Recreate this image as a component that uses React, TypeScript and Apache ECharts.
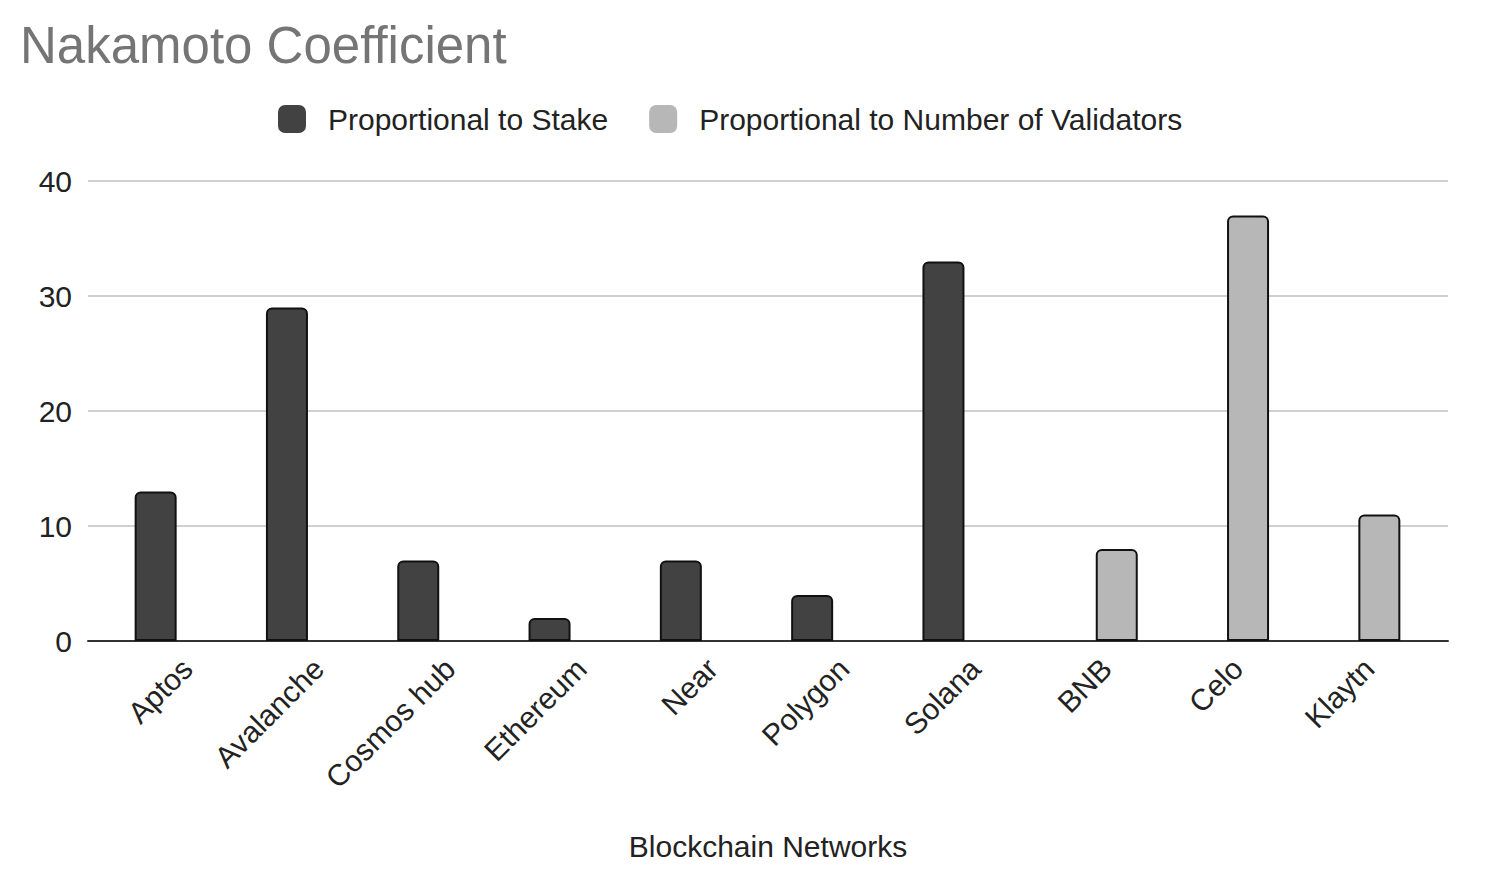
import React, { useEffect, useRef } from "react";
import * as echarts from "echarts";

const categories = ["Aptos", "Avalanche", "Cosmos hub", "Ethereum", "Near", "Polygon", "Solana", "BNB", "Celo", "Klaytn"];
const stakeValues = [13, 29, 7, 2, 7, 4, 33, null, null, null];
const validatorValues = [null, null, null, null, null, null, null, 8, 37, 11];
const yTicks = [0, 10, 20, 30, 40];

const FONT = "'Liberation Sans', Arial, sans-serif";

export default function App() {
  const ref = useRef<HTMLDivElement>(null);
  useEffect(() => {
    document.body.style.margin = "0";
    const chart = echarts.init(ref.current!, null, { renderer: "svg" });
    chart.setOption({
      animation: false,
      textStyle: { fontFamily: FONT },
      title: {
        text: "Nakamoto Coefficient",
        left: 20,
        top: 20,
        padding: 0,
        textStyle: { fontFamily: FONT, fontSize: 51, fontWeight: "normal", color: "#757575" },
      },
      legend: {
        left: 278,
        top: 104,
        padding: 0,
        itemWidth: 28,
        itemHeight: 28,
        itemGap: 41,
        icon: "roundRect",
        textStyle: { fontFamily: FONT, fontSize: 30, color: "#222", padding: [0, 0, 0, 17] },
        itemStyle: { borderWidth: 0 },
        data: ["Proportional to Stake", "Proportional to Number of Validators"],
      },
      grid: [
        { left: 111, right: 68, top: 181, bottom: 251 },
        { left: 88, right: 44, top: 181, bottom: 251 },
      ],
      xAxis: [
        {
          type: "category",
          gridIndex: 0,
          data: categories,
          axisLine: { show: false },
          axisTick: { show: false },
          axisLabel: {
            rotate: 45,
            interval: 0,
            margin: 12,
            verticalAlign: "top",
            fontFamily: FONT,
            fontSize: 30,
            color: "#222",
          },
        },
        {
          type: "category",
          gridIndex: 1,
          data: [""],
          axisLine: { show: true, lineStyle: { color: "#333", width: 2 } },
          axisTick: { show: false },
          axisLabel: { show: false },
          name: "Blockchain Networks",
          nameLocation: "middle",
          nameGap: 190,
          nameTextStyle: { fontFamily: FONT, fontSize: 30, color: "#222" },
        },
      ],
      yAxis: [
        {
          type: "value",
          gridIndex: 0,
          min: yTicks[0],
          max: yTicks[yTicks.length - 1],
          interval: 10,
          axisLabel: { show: false },
          axisLine: { show: false },
          axisTick: { show: false },
          splitLine: { show: false },
        },
        {
          type: "value",
          gridIndex: 1,
          min: yTicks[0],
          max: yTicks[yTicks.length - 1],
          interval: 10,
          axisLabel: { fontFamily: FONT, fontSize: 30, color: "#222", margin: 16 },
          axisLine: { show: false },
          axisTick: { show: false },
          splitLine: { lineStyle: { color: "#d0d0d0", width: 2 } },
        },
      ],
      series: [
        {
          name: "Proportional to Stake",
          type: "bar",
          xAxisIndex: 0,
          yAxisIndex: 0,
          data: stakeValues,
          barWidth: 42,
          barGap: "0%",
          z: 3,
          itemStyle: { color: "#424242", borderColor: "#111", borderWidth: 2, borderRadius: [5, 5, 0, 0] },
        },
        {
          name: "Proportional to Number of Validators",
          type: "bar",
          xAxisIndex: 0,
          yAxisIndex: 0,
          data: validatorValues,
          barWidth: 42,
          barGap: "0%",
          z: 3,
          itemStyle: { color: "#b7b7b7", borderColor: "#111", borderWidth: 2, borderRadius: [5, 5, 0, 0] },
        },
      ],
    });
    return () => chart.dispose();
  }, []);
  return <div ref={ref} style={{ width: 1492, height: 892 }} />;
}
